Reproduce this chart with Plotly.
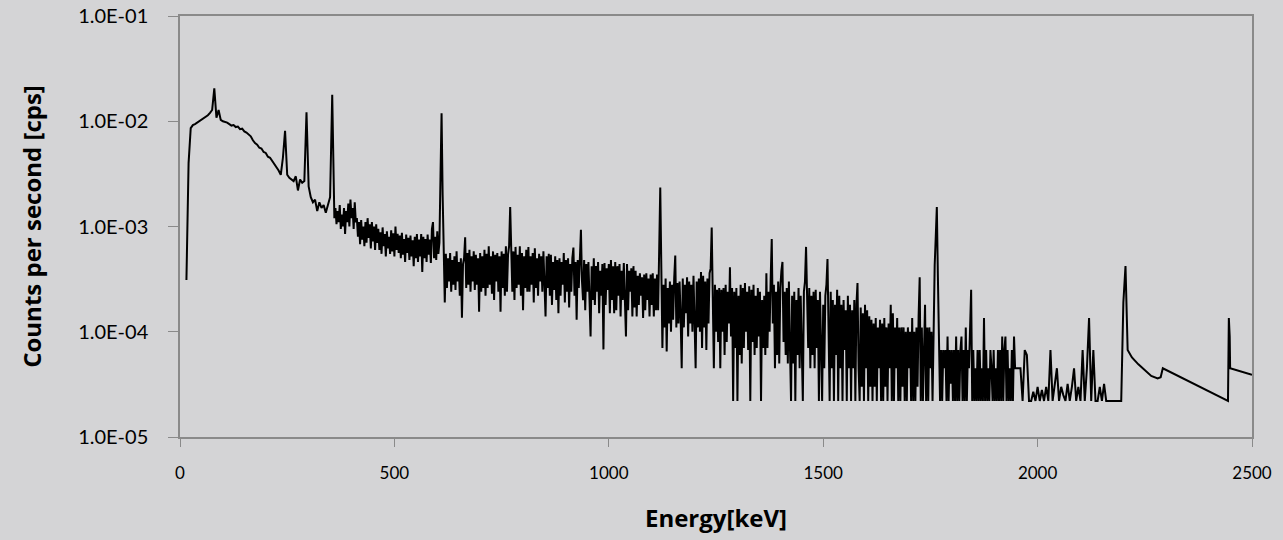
import plotly.graph_objects as go

# Segment 1: 15-360 keV on a 5 keV channel grid
seg1_start_keV, seg1_step_keV = 15, 5
seg1_rate = [
    3.1, 40, 86, 92, 94, 97, 100, 103, 106, 110,          # 15-60
    114, 120, 128, 205, 108, 128, 103, 100, 99, 97,       # 65-110
    94, 91, 92, 88, 89, 84, 85, 80, 78, 75,               # 115-160
    72, 66, 62, 60, 56, 55, 51, 50, 46, 45,               # 165-210
    42, 40, 37, 34, 31, 45, 81, 31, 29, 28,               # 215-260
    27, 30, 22, 28, 26, 27, 122, 24, 19, 17,              # 265-310
    18, 14, 17, 15, 16, 13.5, 16, 19, 178, 12,            # 315-360
]

# Segment 2: 362.5-1960 keV on a 2.5 keV channel grid
seg2_start_keV, seg2_step_keV = 362.5, 2.5
seg2_rate = [
    15, 10.5, 14, 11, 16, 9.5, 13, 10, 15, 8.5, 14, 11, 16.5, 10, 18, 12, 15, 9.5, 17, 11,          # 362.5-410
    12, 8, 11, 6.8, 11.5, 7.5, 10, 6.5, 11, 7, 12, 7.8, 10.5, 6.2, 11, 7.2, 10, 6, 10.5, 7,          # 412.5-460
    9.5, 6, 8.8, 5.5, 9.8, 6.5, 8.5, 5.2, 9, 6.2, 8, 5.5, 9.2, 5.8, 8.6, 5.2, 10, 6, 8.5, 5.6,       # 462.5-510
    8.2, 5, 8.7, 5.4, 7.6, 4.6, 8.4, 5.6, 7.8, 4.8, 8.2, 5.2, 7.4, 4.2, 8, 5, 8.5, 4.6, 7.5, 5.2,    # 512.5-560
    8.5, 3.7, 8, 5, 7.6, 4.6, 8.4, 5.4, 7.5, 4.5, 9.5, 11, 5, 8, 4.8, 9, 5.5, 7, 30, 119,           # 562.5-610
    20, 6, 1.9, 5.5, 2.6, 5, 3, 5.6, 2.4, 4.8, 2.8, 5.2, 2.5, 5.8, 3, 4.6, 2.2, 5, 1.36, 4.4,        # 612.5-660
    5, 7.9, 2.6, 5.6, 2.8, 6, 2.4, 5.2, 3, 5.8, 2.5, 5.4, 2.8, 5, 1.55, 5.6, 2.4, 5.2, 2.6, 6,       # 662.5-710
    2.2, 5.5, 2.6, 6.5, 2.8, 5.2, 2.3, 5.8, 2.0, 5.4, 3, 5.6, 2.4, 5.2, 1.55, 5.8, 2.6, 5.5, 2.2, 6.5,  # 712.5-760
    2.4, 5.4, 6.5, 15.3, 4, 2.4, 5.8, 2.0, 6.4, 2.6, 5.4, 2.8, 6.5, 2.2, 5.6, 1.6, 5.2, 2.6, 6, 2.4,    # 762.5-810
    6.4, 2.4, 5.2, 2.8, 5.6, 1.9, 6.2, 2.6, 5.0, 2.2, 5.5, 3, 5.2, 2.4, 5.8, 2.0, 1.4, 5.2, 2.6, 5.5,   # 812.5-860
    2.2, 5.4, 1.8, 4.6, 2.5, 5.2, 2.0, 4.8, 1.5, 5, 2.2, 4.6, 2.8, 5.6, 1.9, 4.8, 2.4, 5, 1.7, 4.4,     # 862.5-910
    2.4, 5, 6.3, 2.2, 4.6, 1.3, 4.8, 2.6, 5.5, 9.3, 3, 2.0, 4.8, 1.6, 4.4, 2.4, 4.6, 1.4, 0.9, 4.2,     # 912.5-960
    2.0, 5.0, 1.8, 4.2, 2.4, 4.6, 1.5, 3.8, 2.2, 4.4, 0.68, 4.5, 1.8, 4.0, 2.5, 4.4, 1.5, 4.8, 2.0, 4.2,  # 962.5-1010
    1.5, 4.6, 1.6, 4.2, 2.2, 4.4, 1.4, 3.8, 2.0, 4.5, 1.8, 0.9, 4.4, 1.6, 3.8, 2.4, 4.0, 1.4, 4.2, 1.7,  # 1012.5-1060
    3.8, 1.4, 3.4, 1.8, 3.6, 2.2, 3.3, 1.35, 3.5, 1.6, 3.6, 2.0, 3.2, 1.4, 3.5, 1.8, 3.6, 1.4, 3.2, 1.6,  # 1062.5-1110
    3.5, 1.6, 6, 23.5, 4, 0.7, 2.8, 1.1, 3.2, 0.65, 2.6, 1.2, 3.0, 1.0, 2.8, 1.3, 3.2, 5.3, 1.1, 2.9,    # 1112.5-1160
    1.2, 3.0, 1.4, 0.45, 3.2, 1.1, 2.8, 1.5, 3.3, 0.9, 3.0, 1.2, 2.8, 1.0, 3.4, 1.3, 0.45, 3.0, 1.1, 3.2,  # 1162.5-1210
    1.0, 3.7, 0.7, 3.4, 1.1, 3.0, 0.67, 3.2, 1.2, 3.6, 4.0, 9.8, 3, 0.45, 2.8, 1.0, 2.5, 0.8, 2.6, 0.45,  # 1212.5-1260
    2.5, 1.0, 2.6, 0.6, 2.8, 0.8, 2.4, 1.2, 4.1, 0.9, 2.6, 0.22, 2.4, 0.7, 2.6, 0.22, 2.2, 0.6, 2.8, 0.5,  # 1262.5-1310
    2.6, 0.7, 2.9, 1.0, 2.4, 0.67, 2.7, 0.22, 2.5, 0.8, 2.8, 0.6, 2.2, 0.7, 2.6, 0.9, 2.4, 0.22, 2.0, 0.7,  # 1312.5-1360
    2.2, 0.6, 3.6, 0.7, 2.4, 1.0, 3.2, 7.6, 1.2, 2.8, 0.45, 2.4, 0.6, 3.0, 0.5, 2.6, 3.8, 4.6, 0.8, 2.4,  # 1362.5-1410
    0.6, 2.6, 0.5, 3.0, 0.7, 0.22, 2.2, 0.5, 2.4, 0.22, 2.0, 0.6, 2.6, 0.45, 2.2, 0.5, 0.22, 2.4, 3.0, 6.4,  # 1412.5-1460
    1.5, 0.7, 2.6, 0.45, 2.2, 0.6, 2.4, 0.45, 2.5, 0.7, 2.0, 0.22, 2.4, 0.5, 0.22, 1.8, 0.45, 2.2, 2.8, 4.9,  # 1462.5-1510
    1.2, 0.22, 2.4, 0.45, 2.0, 0.22, 1.8, 0.6, 2.5, 0.22, 2.2, 0.45, 1.8, 0.22, 2.0, 0.67, 1.6, 0.22, 2.2, 0.45,  # 1512.5-1560
    1.8, 0.22, 1.6, 0.45, 2.0, 0.22, 1.8, 2.9, 0.45, 0.22, 1.7, 0.3, 1.5, 0.22, 1.8, 0.45, 1.6, 0.22, 1.4, 0.3,  # 1562.5-1610
    1.3, 0.22, 1.2, 0.3, 1.35, 0.22, 1.1, 0.45, 1.3, 0.22, 1.2, 0.22, 1.35, 0.3, 1.1, 0.22, 1.2, 0.45, 1.8, 0.22,  # 1612.5-1660
    1.5, 0.22, 1.1, 0.45, 1.35, 0.22, 1.1, 0.22, 1.1, 0.3, 1.1, 0.22, 1.0, 0.22, 1.1, 0.45, 1.0, 0.22, 1.35, 0.22,  # 1662.5-1710
    1.0, 0.22, 1.1, 0.3, 1.4, 3.3, 0.22, 1.1, 0.22, 1.0, 1.8, 0.22, 1.1, 0.22, 1.1, 0.45, 1.0, 0.22, 1.6, 4.3,  # 1712.5-1760
    8, 15.3, 3.3, 0.9, 0.22, 0.67, 0.22, 0.67, 0.45, 0.67, 0.22, 0.9, 0.22, 0.67, 0.32, 0.67, 0.22, 0.67, 0.22, 0.9,  # 1762.5-1810
    0.22, 0.67, 0.22, 0.67, 0.9, 0.22, 0.67, 0.22, 1.1, 0.22, 0.67, 0.45, 0.9, 2.5, 0.22, 0.67, 0.22, 0.45, 0.22, 0.67,  # 1812.5-1860
    0.22, 0.67, 0.22, 0.45, 0.22, 1.35, 0.22, 0.67, 0.22, 0.45, 0.22, 0.67, 0.45, 0.22, 0.67, 0.22, 0.45, 0.22, 0.67, 0.22,  # 1862.5-1910
    0.67, 0.22, 0.9, 0.22, 0.67, 0.9, 0.22, 0.67, 0.22, 0.45, 0.22, 0.67, 0.22, 0.9, 0.45, 0.45, 0.45, 0.45, 0.45, 0.45,  # 1912.5-1960
]

# Segment 3: 1965-2210 keV on a 5 keV channel grid
seg3_start_keV, seg3_step_keV = 1965, 5
seg3_rate = [
    0.22, 0.67, 0.6, 0.22, 0.22, 0.27, 0.22, 0.3, 0.22, 0.28,     # 1965-2010
    0.22, 0.3, 0.22, 0.67, 0.22, 0.3, 0.45, 0.22, 0.3, 0.25,      # 2015-2060
    0.22, 0.32, 0.22, 0.3, 0.45, 0.22, 0.3, 0.22, 0.67, 0.22,     # 2065-2110
    0.45, 1.35, 0.22, 0.67, 0.22, 0.22, 0.3, 0.22, 0.32, 0.22,    # 2115-2160
    0.22, 0.22, 0.22, 0.22, 0.22, 0.22, 0.22, 1.9, 4.2, 0.67,     # 2165-2210
]

# Sparse high-energy tail (explicit energies)
tail_energy_keV = [2220, 2235, 2250, 2265, 2280, 2287, 2292, 2444, 2446, 2448, 2449, 2500]
tail_rate = [0.57, 0.49, 0.43, 0.38, 0.36, 0.37, 0.45, 0.22, 1.35, 0.9, 0.45, 0.39]

y_tick_values = [1e-5, 1e-4, 1e-3, 1e-2, 1e-1]
y_tick_labels = ["1.0E-05", "1.0E-04", "1.0E-03", "1.0E-02", "1.0E-01"]
x_tick_values = [0, 500, 1000, 1500, 2000, 2500]


def grid(start, step, values):
    return [start + i * step for i in range(len(values))]


energy = (grid(seg1_start_keV, seg1_step_keV, seg1_rate)
          + grid(seg2_start_keV, seg2_step_keV, seg2_rate)
          + grid(seg3_start_keV, seg3_step_keV, seg3_rate)
          + tail_energy_keV)
cps = [v * 1e-4 for v in seg1_rate + seg2_rate + seg3_rate + tail_rate]

BG = "#d4d4d6"
AXIS = "#8a8a8a"
FONT = "Lato, 'Open Sans', sans-serif"
TFONT = "'Open Sans', Lato, sans-serif"

fig = go.Figure()
fig.add_trace(go.Scatter(x=energy, y=cps, mode="lines",
                         line=dict(color="black", width=2.0), showlegend=False))

fig.update_layout(
    width=1283, height=540,
    paper_bgcolor=BG, plot_bgcolor=BG,
    margin=dict(l=180, r=31, t=16, b=103, autoexpand=False),
    font=dict(family=FONT, color="black", size=17),
)
fig.update_xaxes(
    range=[0, 2500], tickvals=x_tick_values,
    showline=True, linecolor=AXIS, linewidth=1.5, mirror=True,
    ticks="outside", ticklen=8, tickcolor=AXIS, tickwidth=1,
    showgrid=False, zeroline=False, automargin=False,
    tickfont=dict(size=17, family=FONT), ticklabelstandoff=12,
    title=dict(text="<b>Energy[keV]</b>", font=dict(size=24, family=TFONT), standoff=28),
)
fig.update_yaxes(
    type="log", range=[-5, -1], tickvals=y_tick_values, ticktext=y_tick_labels,
    showline=True, linecolor=AXIS, linewidth=1.5, mirror=True,
    ticks="outside", ticklen=10, tickcolor=AXIS, tickwidth=1,
    showgrid=False, zeroline=False, automargin=False,
    tickfont=dict(size=20, family=FONT), ticklabelstandoff=16,
    title=dict(text="<b>Counts per second [cps]</b>", font=dict(size=24, family=TFONT), standoff=30),
)

fig.write_html("out.html", config={"displayModeBar": False},
               post_script="document.body.style.margin='0';document.body.style.background='#d4d4d6';")
